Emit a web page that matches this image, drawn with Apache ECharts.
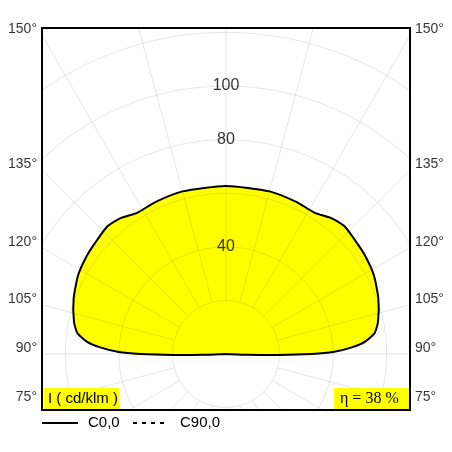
<!DOCTYPE html><html><head><meta charset="utf-8">
<script src="https://cdn.jsdelivr.net/npm/echarts@6/dist/echarts.min.js"></script>
<style>html,body{margin:0;padding:0;background:#fff}#c{width:452px;height:452px}</style></head><body><div id="c"></div>
<script>
const angles = [0, 88, 89, 90, 91, 93, 95, 98, 102, 110, 118, 125, 130, 137, 142, 148, 155, 165, 180];
const intensity = [0, 8, 20, 32, 40, 47, 52, 56, 58, 60.5, 62.5, 63.5, 64, 65, 64.2, 62.2, 62.5, 62.8, 62.7];
const ringValues = [20, 40, 60, 80, 100, 120, 140];
const ringLabels = [40, 80, 100];
const sideAngles = [150, 135, 120, 105, 90, 75];
const XM = 68.66, YT = 121.6, YB = -20.9;

const rad = d => d * Math.PI / 180;
function pt(a, r, side) { return [side * r * Math.sin(rad(a)), -r * Math.cos(rad(a))]; }
const curve = [];
for (let i = 0; i < angles.length; i++) curve.push(pt(angles[i], intensity[i], -1));
for (let i = angles.length - 2; i >= 0; i--) curve.push(pt(angles[i], intensity[i], 1));

const circleData = ringValues.map(v => [v]);
const spokes = [];
for (let a = 0; a < 360; a += 15) spokes.push([a]);
const sideLabelData = [];
sideAngles.forEach(a => {
  const up = 180 - a;
  const y = XM / Math.tan(rad(up));
  sideLabelData.push({value: [-XM, y], label: {position: 'left', formatter: a + '°'}});
  sideLabelData.push({value: [XM, y], label: {position: 'right', formatter: a + '°'}});
});
const GRIDC = 'rgba(0,0,0,0.1)';
const chart = echarts.init(document.getElementById('c'));
chart.setOption({
  animation: false,
  grid: {left: 42, top: 28, width: 368, height: 382, show: true, borderColor: '#000', borderWidth: 2, z: 10},
  xAxis: {type: 'value', min: -XM, max: XM, show: false},
  yAxis: {type: 'value', min: YB, max: YT, show: false},
  series: [
    {type: 'custom', clip: true, data: [0], z: 1, renderItem: (p, api) => ({
      type: 'polygon', shape: {points: curve.map(q => api.coord(q)), smooth: 0.2},
      style: {fill: '#ffff00', stroke: 'none'}})},
    {type: 'custom', clip: true, data: circleData, z: 2, renderItem: (p, api) => {
      const c = api.coord([0, 0]); const e = api.coord([api.value(0), 0]);
      return {type: 'circle', shape: {cx: c[0], cy: c[1], r: e[0] - c[0]}, style: {fill: 'none', stroke: GRIDC, lineWidth: 1}};
    }},
    {type: 'custom', clip: true, data: spokes, z: 2, renderItem: (p, api) => {
      const a = api.value(0); const s = api.coord(pt(a, ringValues[0], 1)); const e = api.coord(pt(a, 200, 1));
      return {type: 'line', shape: {x1: s[0], y1: s[1], x2: e[0], y2: e[1]}, style: {stroke: GRIDC, lineWidth: 1}};
    }},
    {type: 'custom', clip: true, data: [0], z: 3, renderItem: (p, api) => ({
      type: 'polygon', shape: {points: curve.map(q => api.coord(q)), smooth: 0.2},
      style: {fill: 'none', stroke: '#000', lineWidth: 2}})},
    {type: 'scatter', symbolSize: 0, z: 5, data: ringLabels.map(v => [0, v]),
      label: {show: true, position: 'inside', offset: [0, 0], formatter: p => p.value[1], color: '#000', textBorderWidth: 0, fontSize: 16, fontFamily: 'Liberation Sans'}},
    {type: 'scatter', symbolSize: 0, z: 5, data: sideLabelData,
      label: {show: true, distance: 5, color: '#000', textBorderWidth: 0, fontSize: 14, fontFamily: 'Liberation Sans', offset: [0, -6]}}
  ],
  graphic: [
    {type: 'rect', z: 20, shape: {x: 44, y: 388, width: 75, height: 21}, style: {fill: '#ffff00'}},
    {type: 'text', z: 21, x: 48, y: 398.5, style: {text: 'I ( cd/klm )', fill: '#000', font: '15px Liberation Sans', verticalAlign: 'middle'}},
    {type: 'rect', z: 20, shape: {x: 334, y: 388, width: 75, height: 21}, style: {fill: '#ffff00'}},
    {type: 'text', z: 21, x: 340, y: 398.5, style: {text: 'η = 38 %', fill: '#000', font: '16px Liberation Serif', verticalAlign: 'middle'}},
    {type: 'line', shape: {x1: 42, y1: 423, x2: 78, y2: 423}, style: {stroke: '#000', lineWidth: 2}},
    {type: 'text', x: 88, y: 423, style: {text: 'C0,0', fill: '#000', font: '15px Liberation Sans', verticalAlign: 'middle'}},
    {type: 'line', shape: {x1: 133, y1: 423, x2: 166, y2: 423}, style: {stroke: '#000', lineWidth: 2, lineDash: [4, 5]}},
    {type: 'text', x: 180, y: 423, style: {text: 'C90,0', fill: '#000', font: '15px Liberation Sans', verticalAlign: 'middle'}}
  ]
});
</script></body></html>
